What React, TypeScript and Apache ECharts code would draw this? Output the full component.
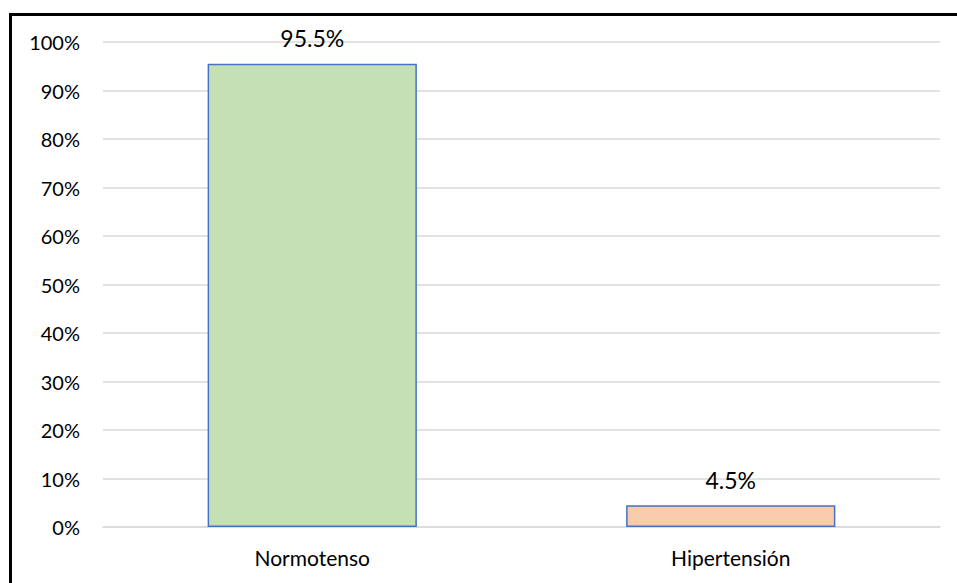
import React, { useEffect, useRef } from "react";
import * as echarts from "echarts";

const categories = ["Normotenso", "Hipertensión"];
const percentages = [95.5, 4.5];
const barColors = ["#C5E0B4", "#F8CBAD"];

export default function App() {
  const ref = useRef<HTMLDivElement>(null);

  useEffect(() => {
    document.body.style.margin = "0";
    if (!ref.current) return;
    const chart = echarts.init(ref.current, null, { renderer: "svg" });
    chart.setOption({
      animation: false,
      backgroundColor: "#ffffff",
      textStyle: { fontFamily: "Lato, 'Open Sans', sans-serif" },
      graphic: [
        {
          type: "rect",
          left: 8,
          top: 12,
          shape: { width: 1000, height: 600 },
          style: { fill: "none", stroke: "#000000", lineWidth: 3 },
          silent: true,
        },
      ],
      grid: { left: 103, right: 17, top: 42, bottom: 56 },
      xAxis: {
        type: "category",
        data: categories,
        axisLine: { show: true, lineStyle: { color: "#D9D9D9", width: 1.5 } },
        axisTick: { show: false },
        axisLabel: { color: "#000000", fontSize: 21, margin: 20 },
      },
      yAxis: {
        type: "value",
        min: 0,
        max: 100,
        interval: 10,
        axisLine: { show: false },
        axisTick: { show: false },
        axisLabel: { color: "#000000", fontSize: 20, margin: 23, formatter: "{value}%" },
        splitLine: { lineStyle: { color: "#D9D9D9", width: 1.5 } },
      },
      series: [
        {
          type: "bar",
          barWidth: "50%",
          data: percentages.map((v, i) => ({
            value: v,
            itemStyle: { color: barColors[i], borderColor: "#4472C4", borderWidth: 1.5 },
          })),
          label: {
            show: true,
            position: "top",
            distance: 14,
            color: "#000000",
            fontSize: 23,
            formatter: (p: any) => `${p.value.toFixed(1)}%`,
          },
        },
      ],
    });
    return () => chart.dispose();
  }, []);

  return <div ref={ref} style={{ width: 957, height: 583 }} />;
}
